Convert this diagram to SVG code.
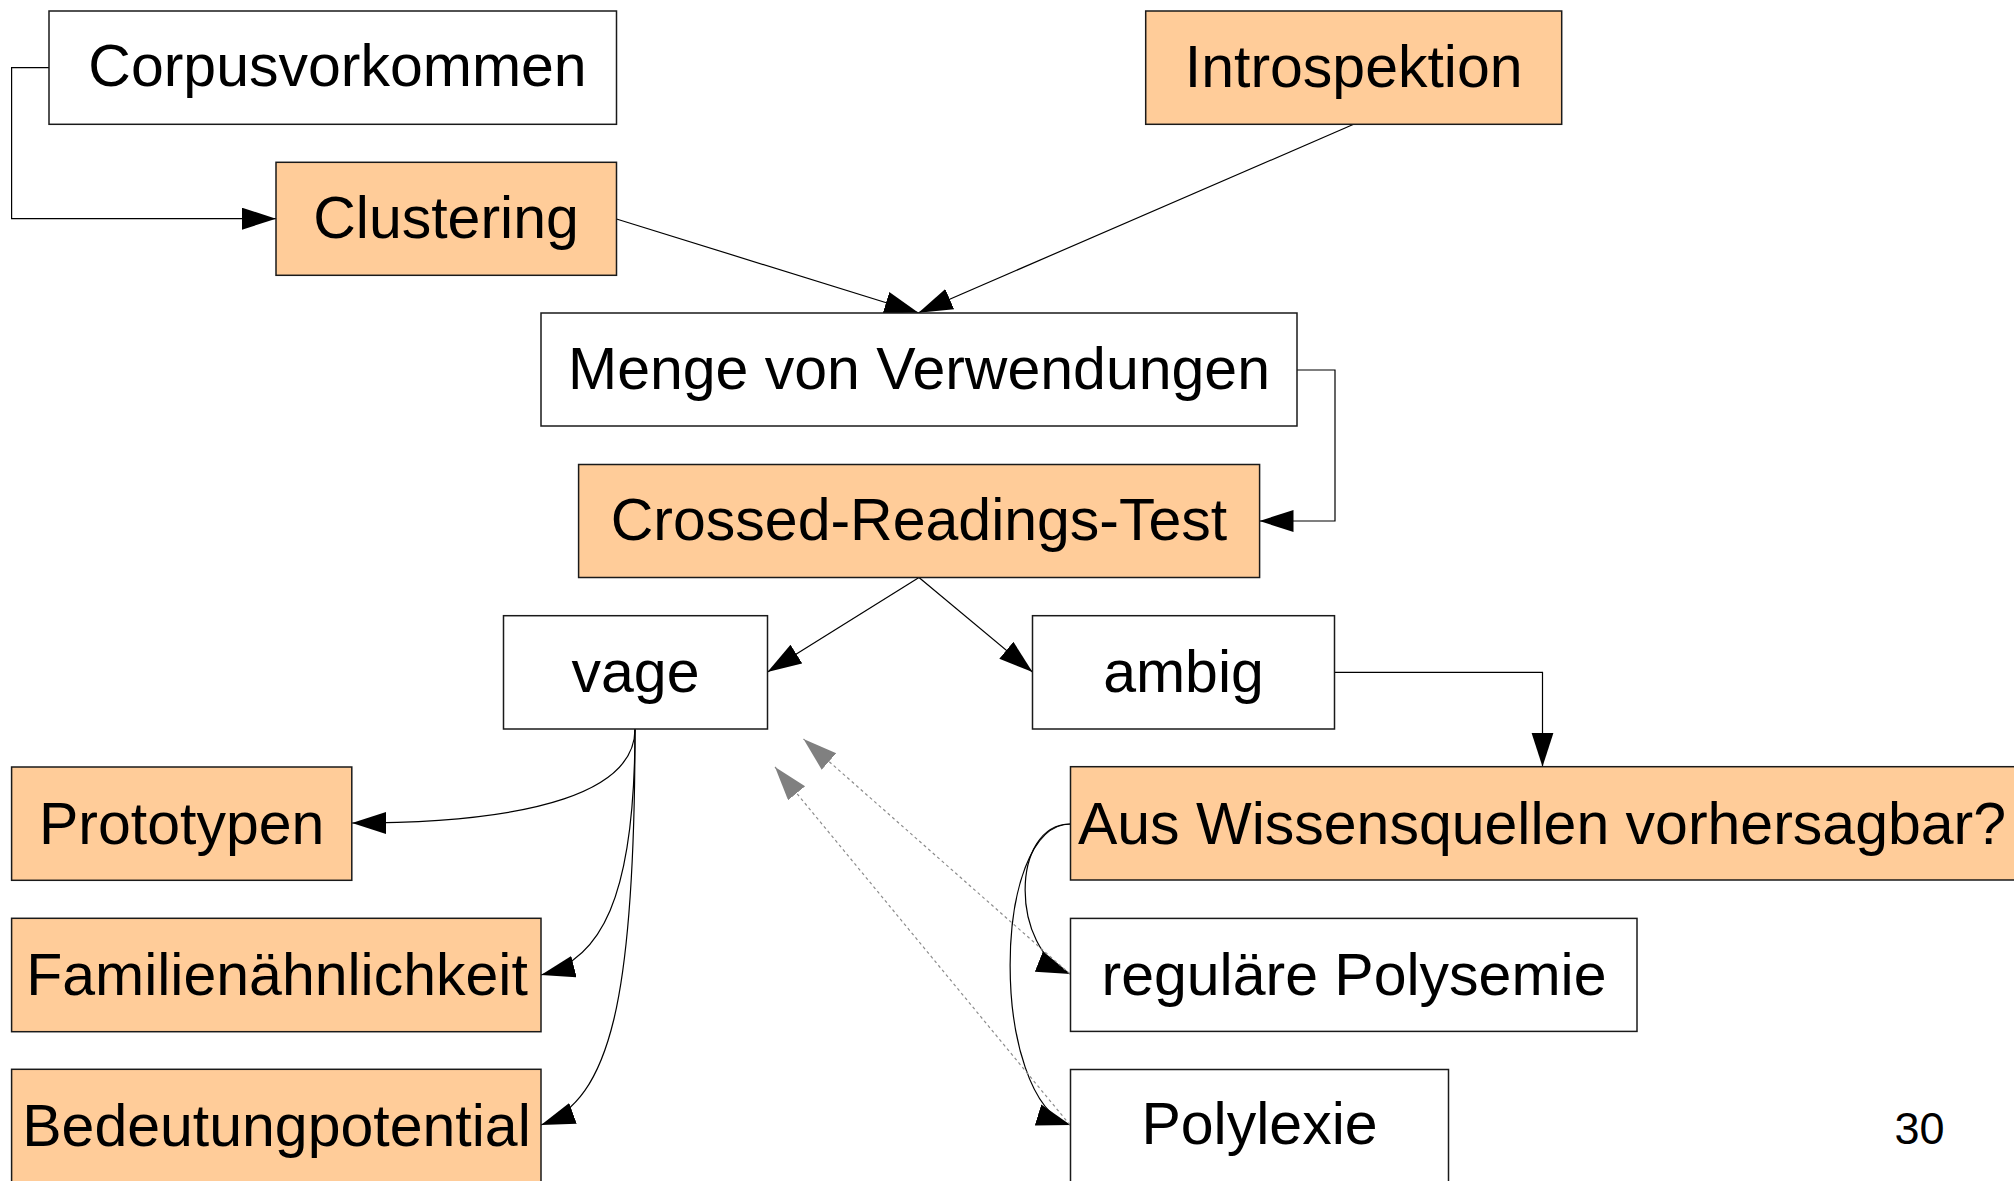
<svg xmlns="http://www.w3.org/2000/svg" width="2014" height="1181" viewBox="0 0 2014 1181">
  <style>
    .box { stroke: #1a1a1a; stroke-width: 1.5; }
    .plain { fill: #ffffff; }
    .warm { fill: #ffcc99; }
    .label { font-family: "Liberation Sans", Arial, sans-serif; font-size: 59px; fill: #000; text-anchor: middle; }
    .edge { fill: none; stroke: #000; stroke-width: 1.2; }
    .hint { fill: none; stroke: #8c8c8c; stroke-width: 1.2; stroke-dasharray: 3 3; }
  </style>
  <defs>
    <marker id="arrow" markerUnits="userSpaceOnUse" markerWidth="36" markerHeight="24" refX="34" refY="11" orient="auto">
      <path d="M0,0 L34,11 L0,22 z" fill="#000"/>
    </marker>
    <marker id="arrowGrey" markerUnits="userSpaceOnUse" markerWidth="36" markerHeight="24" refX="34" refY="11" orient="auto">
      <path d="M0,0 L34,11 L0,22 z" fill="#808080"/>
    </marker>
  </defs>

  <rect width="2014" height="1181" fill="#ffffff"/>

  <!-- connectors -->
  <g id="connectors">
    <polyline class="edge" points="49,67.7 11.6,67.7 11.6,218.7 276,218.7" marker-end="url(#arrow)"/>
    <line class="edge" x1="616.5" y1="219" x2="918.5" y2="312.7" marker-end="url(#arrow)"/>
    <line class="edge" x1="1353.7" y1="124.3" x2="918.5" y2="312.7" marker-end="url(#arrow)"/>
    <polyline class="edge" points="1297,370 1335,370 1335,521 1259.5,521" marker-end="url(#arrow)"/>
    <line class="edge" x1="919" y1="577.5" x2="767.5" y2="672" marker-end="url(#arrow)"/>
    <line class="edge" x1="919" y1="577.5" x2="1032.5" y2="672" marker-end="url(#arrow)"/>
    <polyline class="edge" points="1334.5,672.3 1542.5,672.3 1542.5,766.7" marker-end="url(#arrow)"/>
    <path class="edge" d="M635,729 C635,790 540,823 352,823" marker-end="url(#arrow)"/>
    <path class="edge" d="M635,729 C635,900 600,960 541,975" marker-end="url(#arrow)"/>
    <path class="edge" d="M635,729 C635,1000 610,1100 541,1125" marker-end="url(#arrow)"/>
    <path class="edge" d="M1070.5,824 C1010,824 1010,950 1070.5,974" marker-end="url(#arrow)"/>
    <path class="edge" d="M1070.5,824 C990,824 990,1100 1070.5,1125" marker-end="url(#arrow)"/>
    <line class="hint" x1="1070" y1="974" x2="803.5" y2="739" marker-end="url(#arrowGrey)"/>
    <line class="hint" x1="1070" y1="1125" x2="775" y2="767" marker-end="url(#arrowGrey)"/>
  </g>

  <!-- nodes -->
  <g id="corpusvorkommen">
    <rect class="box plain" x="49" y="11" width="567.5" height="113.3"/>
    <text class="label" x="337.5" y="85.5">Corpusvorkommen</text>
  </g>
  <g id="introspektion">
    <rect class="box warm" x="1145.7" y="11" width="416" height="113.3"/>
    <text class="label" x="1353.7" y="87">Introspektion</text>
  </g>
  <g id="clustering">
    <rect class="box warm" x="276" y="162.3" width="340.5" height="113"/>
    <text class="label" x="446" y="238">Clustering</text>
  </g>
  <g id="menge">
    <rect class="box plain" x="541" y="313" width="756" height="113"/>
    <text class="label" x="919" y="389">Menge von Verwendungen</text>
  </g>
  <g id="crossed-readings">
    <rect class="box warm" x="578.6" y="464.5" width="681" height="113"/>
    <text class="label" x="919" y="540">Crossed-Readings-Test</text>
  </g>
  <g id="vage">
    <rect class="box plain" x="503.5" y="615.7" width="264" height="113.3"/>
    <text class="label" x="635.5" y="691.5">vage</text>
  </g>
  <g id="ambig">
    <rect class="box plain" x="1032.5" y="615.7" width="302" height="113.3"/>
    <text class="label" x="1183.5" y="692">ambig</text>
  </g>
  <g id="prototypen">
    <rect class="box warm" x="11.6" y="767" width="340.2" height="113.3"/>
    <text class="label" x="181.7" y="843.5">Prototypen</text>
  </g>
  <g id="wissensquellen">
    <rect class="box warm" x="1070.5" y="766.7" width="946" height="113.3"/>
    <text class="label" x="1542" y="843.5">Aus Wissensquellen vorhersagbar?</text>
  </g>
  <g id="familienaehnlichkeit">
    <rect class="box warm" x="11.6" y="918.3" width="529.4" height="113.4"/>
    <text class="label" x="277" y="995">Familienähnlichkeit</text>
  </g>
  <g id="regulaere-polysemie">
    <rect class="box plain" x="1070.5" y="918.4" width="566.5" height="113"/>
    <text class="label" x="1354" y="994.5">reguläre Polysemie</text>
  </g>
  <g id="bedeutungpotential">
    <rect class="box warm" x="11.6" y="1069.3" width="529.4" height="113.4"/>
    <text class="label" x="276.5" y="1146">Bedeutungpotential</text>
  </g>
  <g id="polylexie">
    <rect class="box plain" x="1070.5" y="1069.5" width="378" height="113.4"/>
    <text class="label" x="1259.5" y="1143.5">Polylexie</text>
  </g>

  <text x="1919.6" y="1143.5" font-family="'Liberation Sans', Arial, sans-serif" font-size="45" text-anchor="middle" fill="#000">30</text>
</svg>
